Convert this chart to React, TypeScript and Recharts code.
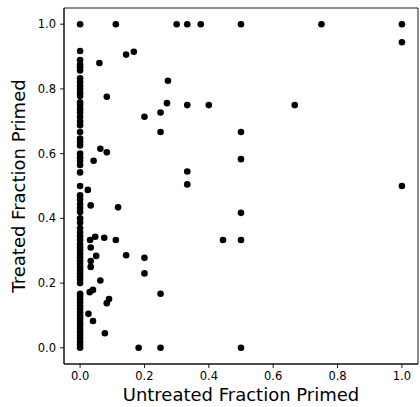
import React from "react"
import {
  ScatterChart,
  Scatter,
  XAxis,
  YAxis,
  ReferenceArea,
} from "recharts"

// points where untreated fraction is 0 (the dense column on the left)
const treatedAtZero = [
  1.0, 0.917, 0.889, 0.875, 0.867, 0.857, 0.833, 0.821, 0.81, 0.8, 0.788,
  0.778, 0.759, 0.75, 0.738, 0.727, 0.714, 0.7, 0.688, 0.667, 0.647, 0.636,
  0.625, 0.6, 0.588, 0.577, 0.565, 0.542, 0.5, 0.471, 0.458, 0.444, 0.432,
  0.42, 0.4, 0.387, 0.37, 0.357, 0.345, 0.333, 0.32, 0.31, 0.3, 0.29, 0.28,
  0.27, 0.26, 0.25, 0.24, 0.23, 0.22, 0.21, 0.2, 0.167, 0.16, 0.15, 0.14,
  0.13, 0.12, 0.11, 0.1, 0.09, 0.08, 0.07, 0.06, 0.05, 0.04, 0.03, 0.02,
  0.01, 0.0,
]

// remaining points, paired by index
const untreated = [
  0.111, 0.3, 0.333, 0.375, 0.5, 0.75, 1.0, 1.0, 0.06, 0.143, 0.167, 0.273,
  0.083, 0.27, 0.25, 0.2, 0.333, 0.4, 0.667, 0.5, 0.5, 0.333, 0.333, 1.0,
  0.5, 0.444, 0.5, 0.5, 0.25, 0.063, 0.083, 0.042, 0.024, 0.033, 0.118,
  0.047, 0.075, 0.111, 0.031, 0.033, 0.05, 0.143, 0.033, 0.033, 0.2, 0.2,
  0.063, 0.04, 0.03, 0.09, 0.083, 0.026, 0.04, 0.077, 0.25, 0.182, 0.25,
]
const treated = [
  1.0, 1.0, 1.0, 1.0, 1.0, 1.0, 1.0, 0.944, 0.88, 0.906, 0.915, 0.825,
  0.776, 0.756, 0.727, 0.714, 0.75, 0.75, 0.75, 0.667, 0.583, 0.545, 0.505,
  0.5, 0.417, 0.333, 0.333, 0.0, 0.667, 0.615, 0.604, 0.578, 0.488, 0.44,
  0.434, 0.343, 0.34, 0.333, 0.333, 0.31, 0.284, 0.286, 0.268, 0.25, 0.278,
  0.23, 0.208, 0.179, 0.172, 0.151, 0.138, 0.105, 0.083, 0.045, 0.167, 0.0,
  0.0,
]

const ticks = [0, 0.2, 0.4, 0.6, 0.8, 1.0]

const data = [
  ...treatedAtZero.map((y) => ({ x: 0, y })),
  ...untreated.map((x, i) => ({ x, y: treated[i] })),
]

const font = "DejaVu Sans"

const Dot = (props: any) => (
  <circle cx={props.cx} cy={props.cy} r={3.3} fill="#000" />
)

const XLabel = (props: any) => {
  const vb = props.viewBox
  return (
    <text
      x={vb.x + vb.width / 2}
      y={vb.y + 37}
      textAnchor="middle"
      fontFamily={font}
      fontSize={18}
      fill="#000"
    >
      Untreated Fraction Primed
    </text>
  )
}

const YLabel = (props: any) => {
  const vb = props.viewBox
  const cx = vb.x + 25
  const cy = vb.y + vb.height / 2
  return (
    <text
      x={cx}
      y={cy}
      textAnchor="middle"
      transform={`rotate(-90 ${cx} ${cy})`}
      fontFamily={font}
      fontSize={18}
      fill="#000"
    >
      Treated Fraction Primed
    </text>
  )
}

const tickStyle = { fontFamily: font, fontSize: 11.5, fill: "#000" }

const App = () => {
  return (
    <div style={{ position: "absolute", left: 0, top: 0, background: "#fff" }}>
      <ScatterChart
        width={420}
        height={407}
        margin={{ top: 8, right: 2, bottom: 0, left: 0 }}
      >
        <XAxis
          type="number"
          dataKey="x"
          domain={[-0.05, 1.05]}
          allowDataOverflow
          ticks={ticks}
          tickFormatter={(v: number) => v.toFixed(1)}
          height={43}
          tickSize={4}
          tickMargin={4}
          tick={tickStyle}
          axisLine={{ stroke: "#000", strokeWidth: 0.9 }}
          tickLine={{ stroke: "#000", strokeWidth: 0.9 }}
          label={<XLabel />}
        />
        <YAxis
          type="number"
          dataKey="y"
          domain={[-0.05, 1.05]}
          allowDataOverflow
          ticks={ticks}
          tickFormatter={(v: number) => v.toFixed(1)}
          width={64}
          tickSize={4}
          tickMargin={4}
          tick={tickStyle}
          axisLine={{ stroke: "#000", strokeWidth: 0.9 }}
          tickLine={{ stroke: "#000", strokeWidth: 0.9 }}
          label={<YLabel />}
        />
        <ReferenceArea
          x1={-0.05}
          x2={1.05}
          y1={-0.05}
          y2={1.05}
          fill="none"
          stroke="#000"
          strokeWidth={0.9}
          fillOpacity={0}
        />
        <Scatter data={data} shape={<Dot />} isAnimationActive={false} />
      </ScatterChart>
    </div>
  )
}

export default App
